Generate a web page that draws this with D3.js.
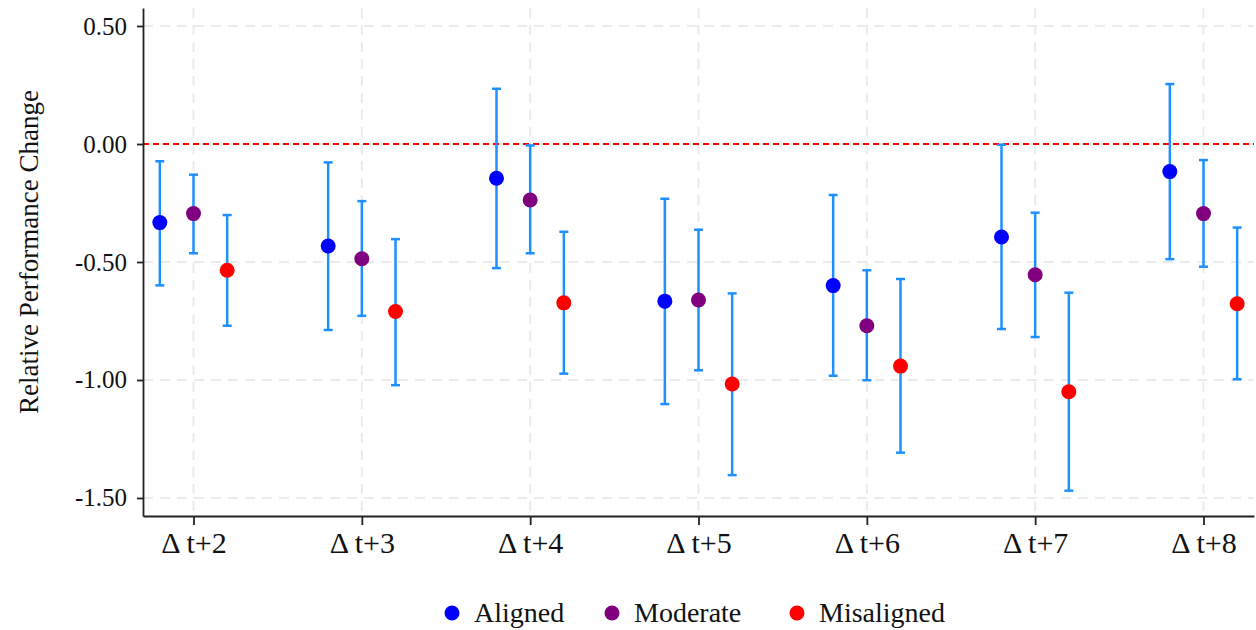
<!DOCTYPE html>
<html>
<head>
<meta charset="utf-8">
<script src="https://cdn.jsdelivr.net/npm/d3@7"></script>
<style>
  html, body { margin: 0; padding: 0; background: #fff; }
  svg { display: block; font-family: "Liberation Serif", "Times New Roman", serif; }
</style>
</head>
<body>
<svg id="chart" width="1256" height="630"></svg>
<script>
// ---- data ----
const categories = ["Δ t+2", "Δ t+3", "Δ t+4", "Δ t+5", "Δ t+6", "Δ t+7", "Δ t+8"];
const seriesNames = ["Aligned", "Moderate", "Misaligned"];
const seriesColors = ["#0000ff", "#800080", "#ff0000"];

const alignedEst   = [-0.333, -0.432, -0.145, -0.666, -0.600, -0.394, -0.117];
const alignedLow   = [-0.599, -0.788, -0.526, -1.102, -0.982, -0.784, -0.488];
const alignedHigh  = [-0.073, -0.078,  0.234, -0.232, -0.216, -0.003,  0.254];

const moderateEst  = [-0.295, -0.486, -0.237, -0.661, -0.770, -0.554, -0.295];
const moderateLow  = [-0.463, -0.728, -0.463, -0.959, -1.001, -0.818, -0.520];
const moderateHigh = [-0.130, -0.242, -0.006, -0.363, -0.535, -0.291, -0.068];

const misalignedEst  = [-0.535, -0.710, -0.673, -1.017, -0.941, -1.050, -0.677];
const misalignedLow  = [-0.770, -1.022, -0.973, -1.403, -1.308, -1.469, -0.997];
const misalignedHigh = [-0.301, -0.403, -0.372, -0.633, -0.572, -0.630, -0.354];

const yTicks = [0.5, 0, -0.5, -1.0, -1.5];
const yLabel = "Relative Performance Change";

// ---- build rows ----
const est = [alignedEst, moderateEst, misalignedEst];
const low = [alignedLow, moderateLow, misalignedLow];
const high = [alignedHigh, moderateHigh, misalignedHigh];
const offsets = [-0.2, 0, 0.2];
const rows = [];
seriesNames.forEach((s, si) => {
  categories.forEach((c, ci) => {
    rows.push({ s: si, c: ci, v: est[si][ci], lo: low[si][ci], hi: high[si][ci] });
  });
});

// ---- layout ----
const L = 143, R = 1254, T = 8, B = 516;
const svg = d3.select("#chart");
const x = d3.scaleLinear().domain([-0.3, categories.length - 0.7]).range([L, R]);
const y = d3.scaleLinear().domain([-1.5763, 0.5763]).range([B, T]);
const fmt = d3.formatLocale({ decimal: ".", thousands: ",", grouping: [3], currency: ["", ""], minus: "-" }).format(".2f");

// grid
const grid = svg.append("g");
grid.selectAll("line.h").data(yTicks).enter().append("line")
  .attr("x1", L).attr("x2", R).attr("y1", d => y(d)).attr("y2", d => y(d))
  .attr("stroke", "#ebebeb").attr("stroke-width", 2).attr("stroke-dasharray", "10,7");
grid.selectAll("line.v").data(categories).enter().append("line")
  .attr("x1", (d, i) => x(i)).attr("x2", (d, i) => x(i)).attr("y1", T).attr("y2", B)
  .attr("stroke", "#ebebeb").attr("stroke-width", 2).attr("stroke-dasharray", "10,7");

// zero line
svg.append("line")
  .attr("x1", L).attr("x2", R).attr("y1", y(0)).attr("y2", y(0))
  .attr("stroke", "#ff0000").attr("stroke-width", 2).attr("stroke-dasharray", "6,4");

// axes
const yAxis = svg.append("g").attr("transform", `translate(${L},0)`)
  .call(d3.axisLeft(y).tickValues(yTicks).tickFormat(fmt).tickSize(6).tickPadding(10).tickSizeOuter(0));
const xAxis = svg.append("g").attr("transform", `translate(0,${B})`)
  .call(d3.axisBottom(x).tickValues(d3.range(categories.length)).tickFormat(i => categories[i]).tickSize(9).tickPadding(7).tickSizeOuter(0));
[yAxis, xAxis].forEach(a => {
  a.select(".domain").attr("stroke", "#222").attr("stroke-width", 1.8);
  a.selectAll(".tick line").attr("stroke", "#222").attr("stroke-width", 1.8);
  a.selectAll("text").attr("fill", "#111").attr("font-family", "Liberation Serif");
});
yAxis.selectAll("text").attr("font-size", 25);
xAxis.selectAll("text").attr("font-size", 30);

// y label
svg.append("text")
  .attr("transform", `translate(38,${(T + B) / 2 - 10}) rotate(-90)`)
  .attr("text-anchor", "middle").attr("font-size", 27).attr("fill", "#111")
  .text(yLabel);

// error bars
const bars = svg.append("g");
const px = d => x(d.c + offsets[d.s]);
bars.selectAll("line.ci").data(rows).enter().append("line")
  .attr("x1", px).attr("x2", px).attr("y1", d => y(d.lo)).attr("y2", d => y(d.hi))
  .attr("stroke", "#1e90ff").attr("stroke-width", 2.5);
bars.selectAll("line.capl").data(rows).enter().append("line")
  .attr("x1", d => px(d) - 4.5).attr("x2", d => px(d) + 4.5).attr("y1", d => y(d.lo)).attr("y2", d => y(d.lo))
  .attr("stroke", "#1e90ff").attr("stroke-width", 2.5);
bars.selectAll("line.caph").data(rows).enter().append("line")
  .attr("x1", d => px(d) - 4.5).attr("x2", d => px(d) + 4.5).attr("y1", d => y(d.hi)).attr("y2", d => y(d.hi))
  .attr("stroke", "#1e90ff").attr("stroke-width", 2.5);

// points
svg.append("g").selectAll("circle").data(rows).enter().append("circle")
  .attr("cx", px).attr("cy", d => y(d.v)).attr("r", 7.5)
  .attr("fill", d => seriesColors[d.s]);

// legend
const legendX = [452, 612, 797];
const leg = svg.append("g");
seriesNames.forEach((n, i) => {
  leg.append("circle").attr("cx", legendX[i]).attr("cy", 613).attr("r", 7.5).attr("fill", seriesColors[i]);
  leg.append("text").attr("x", legendX[i] + 22).attr("y", 622).attr("font-size", 28).attr("fill", "#111").text(n);
});
</script>
</body>
</html>
